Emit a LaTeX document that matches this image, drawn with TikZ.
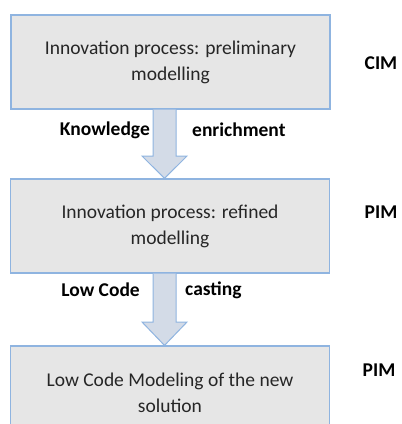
\documentclass[tikz,border=0pt]{standalone}
\usepackage{fontspec}
\setmainfont{Carlito}
\definecolor{boxfill}{HTML}{E6E6E6}
\definecolor{boxline}{HTML}{8FB4E0}
\definecolor{arrfill}{HTML}{D3DBE7}
\definecolor{boxtext}{HTML}{262626}
\begin{document}
\begin{tikzpicture}[x=1pt,y=-1pt,
  stage/.style={draw=boxline,line width=1.2pt,fill=boxfill,minimum width=319pt,minimum height=94pt,align=center,text=boxtext,font=\fontsize{19.5}{26}\selectfont,inner sep=0pt},
  tag/.style={font=\bfseries\fontsize{19.5}{22}\selectfont,inner sep=0pt},
  bigarrow/.style={draw=boxline,line width=1pt,fill=arrfill,line join=miter}]
\useasboundingbox (0,0) rectangle (402,424);
\node[stage] (b1) at (170.5,62) {Innovation process: preliminary\\modelling};
\node[stage] (b2) at (170,226) {Innovation process: refined\\modelling};
\node[stage] (b3) at (170,393) {Low Code Modeling of the new\\solution};
\node[tag] (cim) at (381,63) {CIM};
\node[tag] (pim1) at (381,212) {PIM};
\node[tag] (pim2) at (379,370) {PIM};
\node[tag,anchor=east] (k) at (150,130) {Knowledge};
\node[tag,anchor=west] (e) at (192,130) {enrichment};
\node[tag,anchor=east] (lc) at (140,290) {Low Code};
\node[tag,anchor=west] (c) at (185,290) {casting};
% arrows
\draw[bigarrow] (b1.south -| 153,0) -- (153,156) -- (142,156) -- (b2.north -| 164.5,0) -- (187,156) -- (176,156) -- (b1.south -| 176,0);
\draw[bigarrow] (b2.south -| 153,0) -- (153,322) -- (142,322) -- (b3.north -| 164.5,0) -- (187,322) -- (176,322) -- (b2.south -| 176,0);
\end{tikzpicture}
\end{document}
